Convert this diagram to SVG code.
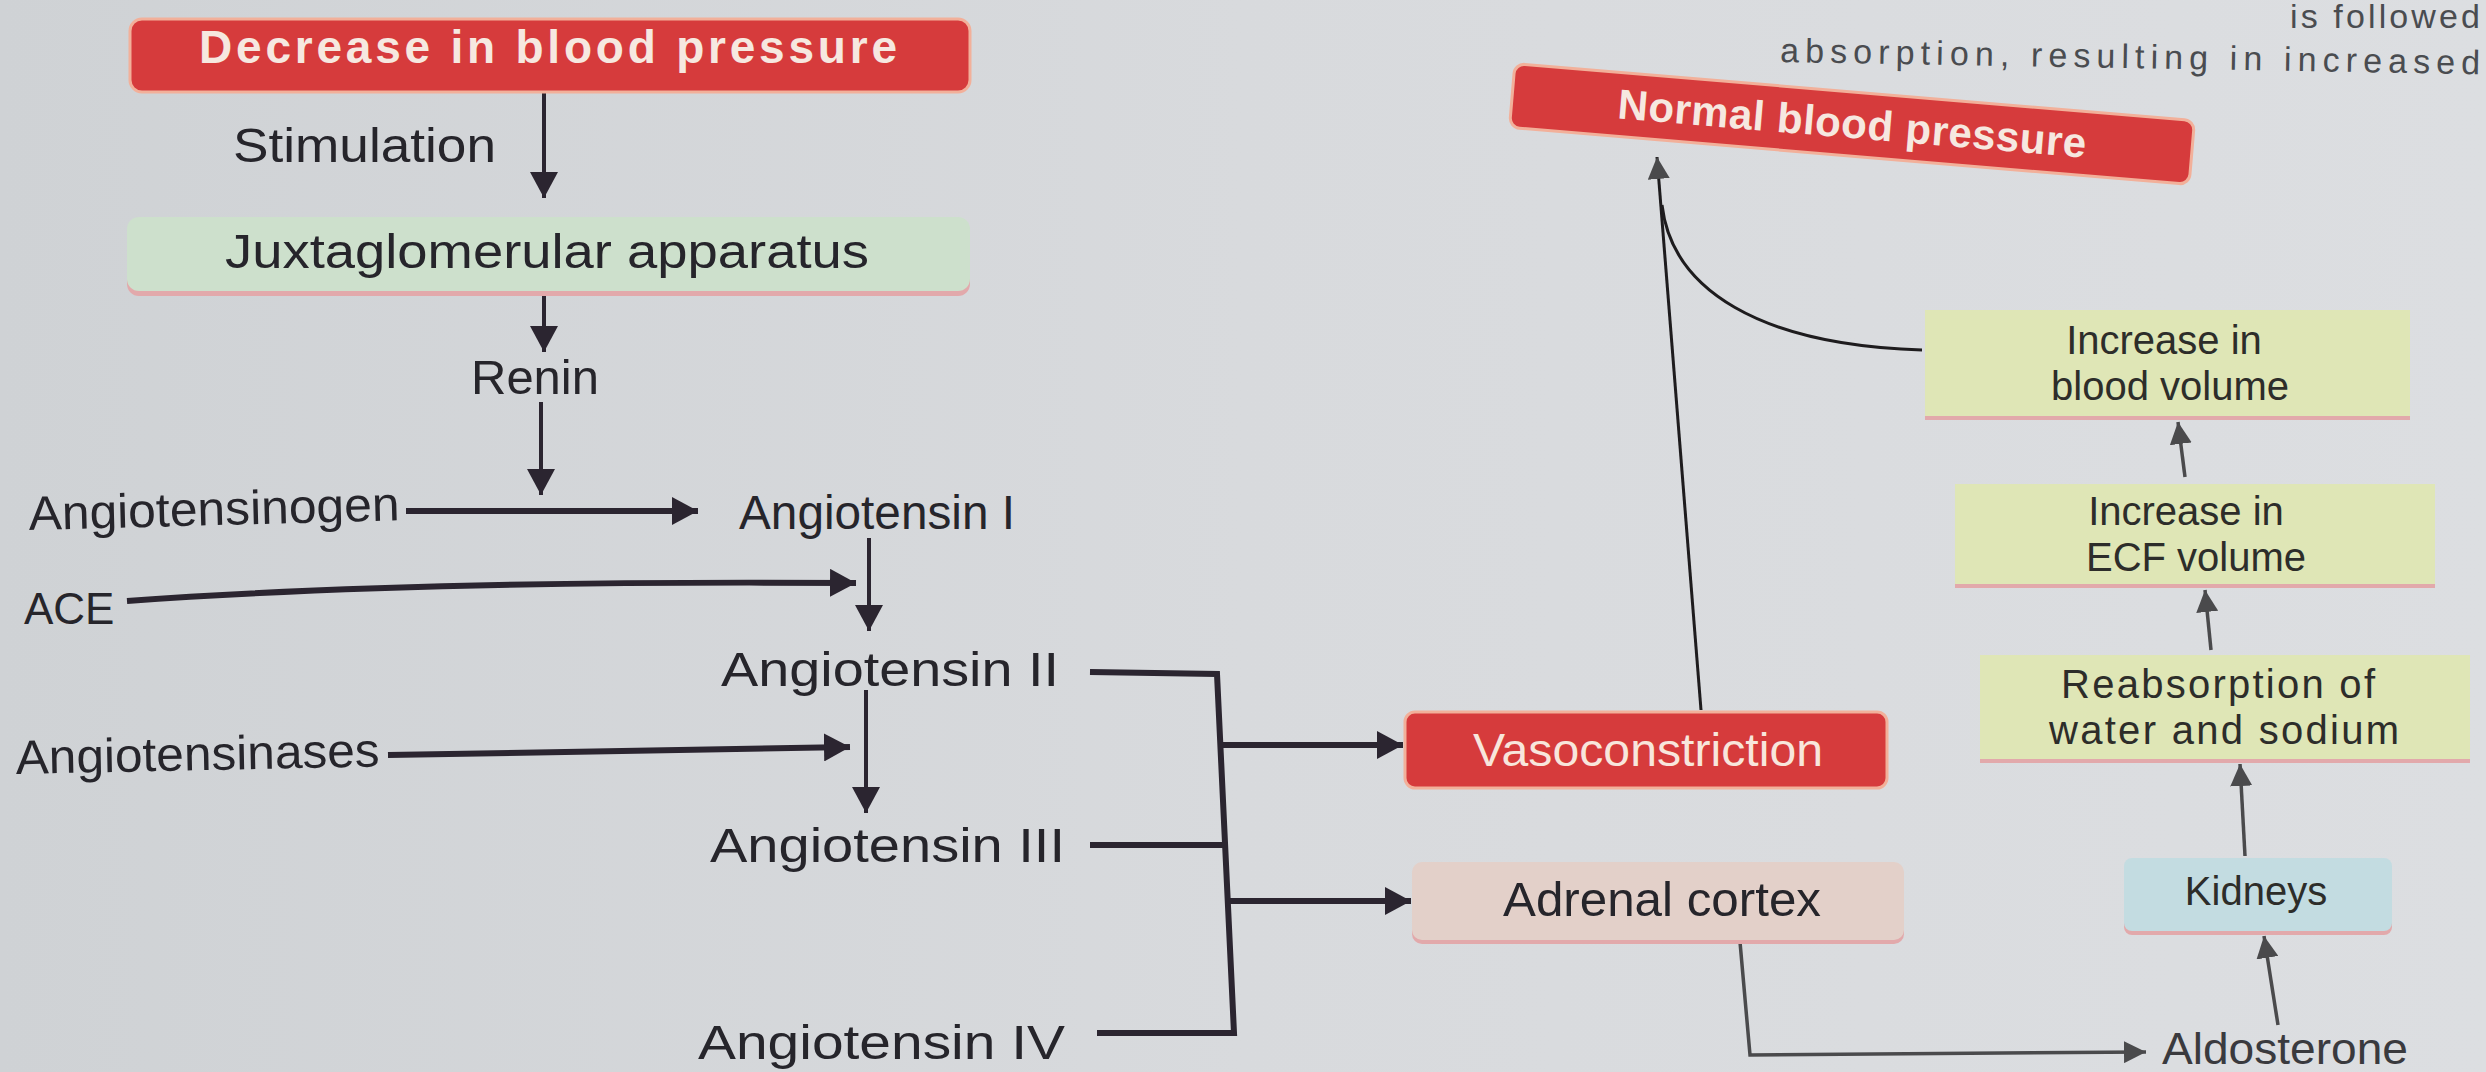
<svg xmlns="http://www.w3.org/2000/svg" width="2486" height="1072" viewBox="0 0 2486 1072">
<style>
.t{font-family:"Liberation Sans",Arial,sans-serif;font-size:48px;fill:#26252b;text-anchor:middle}
.tl{font-family:"Liberation Sans",Arial,sans-serif;font-size:48px;fill:#26252b}
.tb{font-family:"Liberation Sans",Arial,sans-serif;font-size:40px;fill:#2d2d2a;text-anchor:middle}
.hw{font-family:"Liberation Sans",Arial,sans-serif;font-weight:bold;font-size:46px;fill:#f6e8e0;text-anchor:middle}
.ww{font-family:"Liberation Sans",Arial,sans-serif;font-size:46px;fill:#f8e6dc;text-anchor:middle}
.pg{font-family:"Liberation Sans",Arial,sans-serif;font-size:34px;fill:#4a4c50}
.red{fill:#d63b3c;stroke:#f2b09a;stroke-width:3}
.sh{fill:#e2a9ab}
.thick{stroke:#2b2530;stroke-width:6;fill:none}
.med{stroke:#2b2530;stroke-width:4;fill:none}
.thin{stroke:#1e1c1e;stroke-width:3;fill:none}
.gray{stroke:#4a4a4c;stroke-width:3.5;fill:none}
</style>
<defs>
<linearGradient id="bg" x1="0" y1="0" x2="1" y2="0">
<stop offset="0" stop-color="#cfd2d5"/>
<stop offset="0.5" stop-color="#d8dadd"/>
<stop offset="1" stop-color="#dcdee1"/>
</linearGradient>
<marker id="ah" markerUnits="userSpaceOnUse" markerWidth="28" markerHeight="28" refX="26" refY="14" orient="auto">
<path d="M0,0 L26,14 L0,28 z" fill="#2b2530"/>
</marker>
<marker id="ahs" markerUnits="userSpaceOnUse" markerWidth="24" markerHeight="22" refX="22" refY="11" orient="auto">
<path d="M0,0 L22,11 L0,22 z" fill="#4a4a4c"/>
</marker>
</defs>
<rect x="0" y="0" width="2486" height="1072" fill="url(#bg)"/>

<g id="page-text">
<text class="pg" x="2290" y="28" textLength="190" lengthAdjust="spacing">is followed</text>
<text class="pg" x="1780" y="62" textLength="700" lengthAdjust="spacing" transform="rotate(1 1780 62)">absorption, resulting in increased</text>
</g>

<g id="connectors">
<line class="med" x1="544" y1="92" x2="544" y2="198" marker-end="url(#ah)"/>
<line class="med" x1="544" y1="292" x2="544" y2="352" marker-end="url(#ah)"/>
<line class="med" x1="541" y1="402" x2="541" y2="495" marker-end="url(#ah)"/>
<line class="thick" x1="406" y1="511" x2="698" y2="511" marker-end="url(#ah)"/>
<line class="med" x1="869" y1="538" x2="869" y2="631" marker-end="url(#ah)"/>
<path class="thick" d="M127,601 Q420,580 856,583" marker-end="url(#ah)"/>
<line class="med" x1="866" y1="690" x2="866" y2="813" marker-end="url(#ah)"/>
<line class="thick" x1="388" y1="755" x2="850" y2="747" marker-end="url(#ah)"/>
<polyline class="thick" points="1090,672 1217,674 1234,1033 1097,1033"/>
<line class="thick" x1="1090" y1="845" x2="1225" y2="845"/>
<line class="thick" x1="1222" y1="745" x2="1403" y2="745" marker-end="url(#ah)"/>
<line class="thick" x1="1230" y1="901" x2="1411" y2="901" marker-end="url(#ah)"/>
<line class="thin" x1="1701" y1="710" x2="1657" y2="157" marker-end="url(#ahs)"/>
<path class="thin" d="M1922,350 C1760,345 1672,290 1662,205"/>
<line class="gray" x1="2185" y1="477" x2="2178" y2="422" marker-end="url(#ahs)"/>
<line class="gray" x1="2211" y1="650" x2="2205" y2="590" marker-end="url(#ahs)"/>
<line class="gray" x1="2245" y1="856" x2="2240" y2="764" marker-end="url(#ahs)"/>
<line class="gray" x1="2278" y1="1025" x2="2264" y2="936" marker-end="url(#ahs)"/>
<polyline class="gray" points="1740,942 1750,1055 2146,1052" marker-end="url(#ahs)"/>
</g>

<g id="decrease">
<rect class="red" x="130" y="19" width="840" height="73" rx="12"/>
<text class="hw" x="548" y="63" textLength="698" lengthAdjust="spacing">Decrease in blood pressure</text>
</g>
<g id="stimulation"><text class="tl" x="233" y="162" textLength="263" lengthAdjust="spacingAndGlyphs">Stimulation</text></g>
<g id="juxta">
<rect class="sh" x="127" y="221" width="843" height="75" rx="12"/>
<rect x="127" y="217" width="843" height="74" rx="12" fill="#cde0cc"/>
<text class="tl" x="225" y="268" textLength="644" lengthAdjust="spacingAndGlyphs">Juxtaglomerular apparatus</text>
</g>
<g id="renin"><text class="tl" x="471" y="394" textLength="128" lengthAdjust="spacingAndGlyphs">Renin</text></g>
<g id="angiotensinogen"><text class="tl" x="29" y="530" textLength="371" lengthAdjust="spacingAndGlyphs" transform="rotate(-1.5 29 530)">Angiotensinogen</text></g>
<g id="ang1"><text class="tl" x="739" y="529" textLength="276" lengthAdjust="spacingAndGlyphs">Angiotensin I</text></g>
<g id="ace"><text class="tl" x="24" y="624" style="font-size:44px">ACE</text></g>
<g id="ang2"><text class="tl" x="721" y="686" textLength="338" lengthAdjust="spacingAndGlyphs">Angiotensin II</text></g>
<g id="angiotensinases"><text class="tl" x="16" y="774" textLength="364" lengthAdjust="spacingAndGlyphs" transform="rotate(-1.2 16 774)">Angiotensinases</text></g>
<g id="ang3"><text class="tl" x="710" y="862" textLength="355" lengthAdjust="spacingAndGlyphs">Angiotensin III</text></g>
<g id="ang4"><text class="tl" x="698" y="1059" textLength="367" lengthAdjust="spacingAndGlyphs">Angiotensin IV</text></g>

<g id="vaso">
<rect class="red" x="1405" y="712" width="482" height="76" rx="10" fill="#d4463f"/>
<text class="ww" x="1648" y="766" textLength="350" lengthAdjust="spacingAndGlyphs">Vasoconstriction</text>
</g>
<g id="adrenal">
<rect class="sh" x="1412" y="866" width="492" height="78" rx="10"/>
<rect x="1412" y="862" width="492" height="78" rx="10" fill="#e3d0c9"/>
<text class="t" x="1662" y="916" textLength="318" lengthAdjust="spacingAndGlyphs">Adrenal cortex</text>
</g>
<g id="normal" transform="rotate(4.8 1852 124)">
<rect class="red" x="1511" y="92" width="682" height="64" rx="10"/>
<text class="hw" x="1852" y="138" style="font-size:42px" textLength="470" lengthAdjust="spacing">Normal blood pressure</text>
</g>
<g id="bloodvol">
<rect class="sh" x="1925" y="314" width="485" height="106"/>
<rect x="1925" y="310" width="485" height="106" fill="#dfe6b6"/>
<text class="tb" x="2164" y="354">Increase in</text>
<text class="tb" x="2170" y="400">blood volume</text>
</g>
<g id="ecf">
<rect class="sh" x="1955" y="488" width="480" height="100"/>
<rect x="1955" y="484" width="480" height="100" fill="#dfe6b6"/>
<text class="tb" x="2186" y="525">Increase in</text>
<text class="tb" x="2196" y="571">ECF volume</text>
</g>
<g id="reab">
<rect class="sh" x="1980" y="659" width="490" height="104"/>
<rect x="1980" y="655" width="490" height="104" fill="#dfe6b6"/>
<text class="tb" x="2218" y="698" textLength="314" lengthAdjust="spacing">Reabsorption of</text>
<text class="tb" x="2224" y="744" textLength="350" lengthAdjust="spacing">water and sodium</text>
</g>
<g id="kidneys">
<rect class="sh" x="2124" y="862" width="268" height="73" rx="8"/>
<rect x="2124" y="858" width="268" height="73" rx="8" fill="#c3dce1"/>
<text class="tb" x="2256" y="905">Kidneys</text>
</g>
<g id="aldosterone"><text class="tl" x="2162" y="1064" textLength="246" lengthAdjust="spacingAndGlyphs" style="fill:#3a3a3e;font-size:44px">Aldosterone</text></g>
</svg>
